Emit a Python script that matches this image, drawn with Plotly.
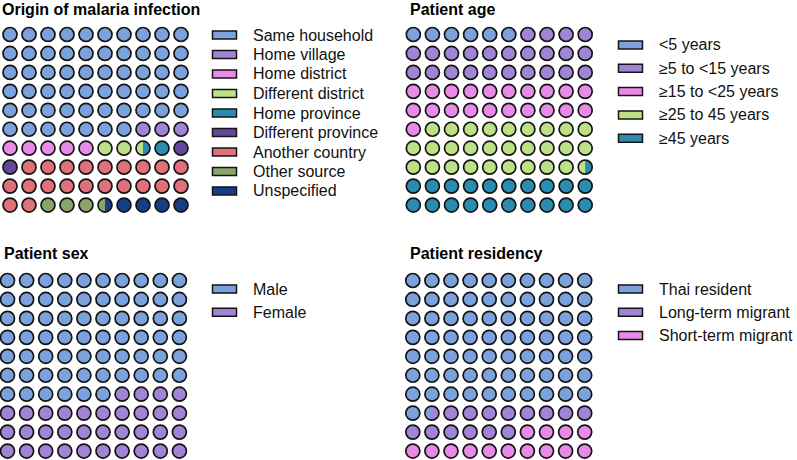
import numpy as np
import plotly.graph_objects as go

W, H = 797, 460
FONT = "Liberation Sans, Arial, sans-serif"

# ---------------- data ----------------
origin_labels = ["Same household", "Home village", "Home district", "Different district",
                 "Home province", "Different province", "Another country", "Other source", "Unspecified"]
origin_values = [57, 3, 5, 2.5, 1.5, 2, 21, 3.5, 4.5]
origin_colors = ["#7ba2dc", "#a084d6", "#ea8ae8", "#bde184", "#2a8cb0",
                 "#62479a", "#e0707a", "#8aa56c", "#143f85"]

age_labels = ["<5 years", "≥5 to <15 years", "≥15 to <25 years", "≥25 to 45 years", "≥45 years"]
age_values = [6, 24, 21, 28.5, 20.5]
age_colors = ["#7ba2dc", "#a084d6", "#ea8ae8", "#bde184", "#2a8cb0"]

sex_labels = ["Male", "Female"]
sex_values = [66, 34]
sex_colors = ["#7ba2dc", "#a084d6"]

res_labels = ["Thai resident", "Long-term migrant", "Short-term migrant"]
res_values = [71.4, 14.6, 14]
res_colors = ["#7ba2dc", "#a084d6", "#ea8ae8"]

# ---------------- layout params (pixels) ----------------
panels = [
    dict(title="Origin of malaria infection", labels=origin_labels, values=origin_values, colors=origin_colors,
         cx0=10.0, sx=19.0, cy0=34.5, sy=18.95, title_x=0, title_y=9,
         box_x=212.5, text_x=251, leg_y0=35, leg_dy=19.5),
    dict(title="Patient age", labels=age_labels, values=age_values, colors=age_colors,
         cx0=413.3, sx=19.1, cy0=34.5, sy=18.95, title_x=407.5, title_y=9,
         box_x=618.5, text_x=657, leg_y0=45, leg_dy=23.3),
    dict(title="Patient sex", labels=sex_labels, values=sex_values, colors=sex_colors,
         cx0=7.5, sx=19.1, cy0=280.5, sy=18.95, title_x=2, title_y=253.5,
         box_x=212.5, text_x=251, leg_y0=289, leg_dy=23.3),
    dict(title="Patient residency", labels=res_labels, values=res_values, colors=res_colors,
         cx0=412.8, sx=19.1, cy0=280.5, sy=18.95, title_x=407.5, title_y=253.5,
         box_x=618.5, text_x=657, leg_y0=289, leg_dy=23.3),
]

NCOL, NROW = 10, 10
MSIZE = 14.0
MLINE = 1.7
EDGE = "#141414"

fig = go.Figure()
layout_axes = {}
shapes = []
annotations = []


def cell_parts(values):
    """Return for each of the 100 cells a list of (category, fraction) in order."""
    bounds = np.concatenate([[0], np.cumsum(values)])
    cells = []
    for k in range(NCOL * NROW):
        parts = []
        for c in range(len(values)):
            ov = min(k + 1, bounds[c + 1]) - max(k, bounds[c])
            if ov > 1e-6:
                parts.append((c, ov))
        cells.append(parts)
    return cells


for pi, p in enumerate(panels):
    ax = "" if pi == 0 else str(pi + 1)
    xa, ya = "x" + ax, "y" + ax
    sx, sy = p["sx"], p["sy"]
    x_left = max(0.0, p["cx0"] - 0.6 * sx)
    x_right = min(W, p["cx0"] + (NCOL - 0.4) * sx)
    y_top = max(0.0, p["cy0"] - 0.6 * sy)
    y_bot = min(H, p["cy0"] + (NROW - 0.4) * sy)
    layout_axes["xaxis" + ax] = dict(domain=[x_left / W, x_right / W],
                                     range=[(x_left - p["cx0"]) / sx, (x_right - p["cx0"]) / sx],
                                     visible=False, fixedrange=True, anchor=ya)
    layout_axes["yaxis" + ax] = dict(domain=[1 - y_bot / H, 1 - y_top / H],
                                     range=[(y_bot - p["cy0"]) / sy, (y_top - p["cy0"]) / sy],
                                     visible=False, fixedrange=True, anchor=xa)

    cells = cell_parts(p["values"])
    ncat = len(p["values"])
    base_x = {c: [] for c in range(ncat)}
    base_y = {c: [] for c in range(ncat)}
    overlays = []
    for k, parts in enumerate(cells):
        col, row = k % NCOL, k // NCOL
        last_c = parts[-1][0]
        base_x[last_c].append(col)
        base_y[last_c].append(row)
        if len(parts) > 1:
            overlays.append((col, row, parts[0][0], parts[0][1]))

    for c in range(ncat):
        if base_x[c]:
            fig.add_trace(go.Scatter(
                x=base_x[c], y=base_y[c], mode="markers", xaxis=xa, yaxis=ya,
                marker=dict(size=MSIZE, color=p["colors"][c], line=dict(width=MLINE, color=EDGE)),
                showlegend=False, hoverinfo="skip", cliponaxis=False))

    # left segment of split circles
    Rm = MSIZE / 2.0
    Rp = Rm - 0.85
    for col, row, c, f in overlays:
        xc = -Rm + 2 * Rm * f
        xc = max(-Rp, min(Rp, xc))
        th0 = np.arccos(xc / Rp)
        th = np.linspace(th0, 2 * np.pi - th0, 40)
        px = Rp * np.cos(th)
        py = Rp * np.sin(th)
        fig.add_trace(go.Scatter(
            x=list(col + px / sx) + [col + px[0] / sx], y=list(row + py / sy) + [row + py[0] / sy],
            mode="lines", fill="toself", fillcolor=p["colors"][c], line=dict(width=0, color=p["colors"][c]),
            xaxis=xa, yaxis=ya, showlegend=False, hoverinfo="skip"))

    # title
    annotations.append(dict(text="<b>" + p["title"] + "</b>", xref="paper", yref="paper",
                            x=p["title_x"] / W, y=1 - p["title_y"] / H, xanchor="left", yanchor="middle",
                            showarrow=False, font=dict(family=FONT, size=16, color="#000000")))
    # legend
    for i, (lab, colr) in enumerate(zip(p["labels"], p["colors"])):
        yc = p["leg_y0"] + i * p["leg_dy"]
        shapes.append(dict(type="rect", xref="paper", yref="paper",
                           x0=p["box_x"] / W, x1=(p["box_x"] + 24) / W,
                           y0=1 - (yc + 4) / H, y1=1 - (yc - 4) / H,
                           fillcolor=colr, line=dict(color=EDGE, width=1.5)))
        annotations.append(dict(text=lab, xref="paper", yref="paper",
                                x=p["text_x"] / W, y=1 - yc / H, xanchor="left", yanchor="middle",
                                showarrow=False, font=dict(family=FONT, size=16, color="#111111")))

fig.update_layout(
    width=W, height=H, margin=dict(l=0, r=0, t=0, b=0),
    paper_bgcolor="white", plot_bgcolor="white",
    showlegend=False, shapes=shapes, annotations=annotations,
    **layout_axes,
)

fig.write_html("out.html", config={"displayModeBar": False},
               post_script="document.body.style.margin='0px';document.body.style.padding='0px';")
